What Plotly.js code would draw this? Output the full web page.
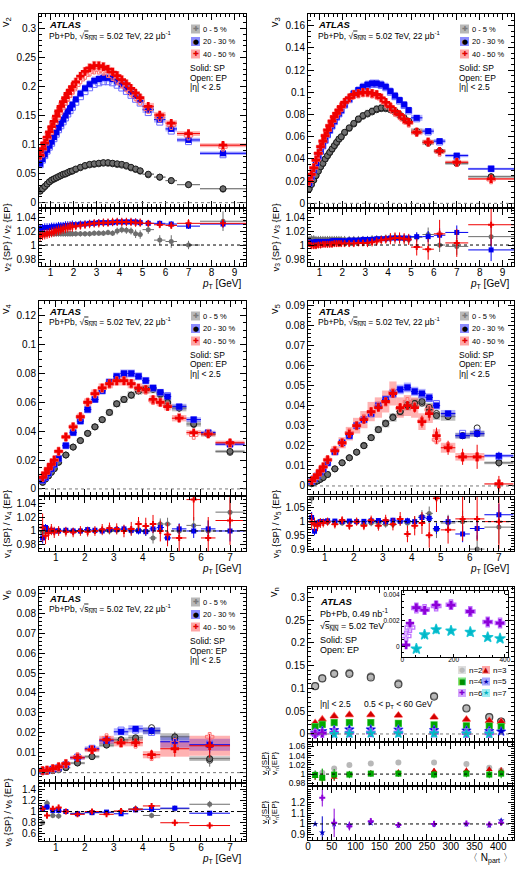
<!DOCTYPE html>
<html><head><meta charset="utf-8">
<script src="https://cdn.plot.ly/plotly-3.0.1.min.js"></script>
<style>html,body{margin:0;padding:0;background:#fff;}#chart{width:519px;height:871px;}</style>
</head><body><div id="chart"></div>
<script>
// ---------------- DATA ----------------
const centLabels = ['0 - 5 %', '20 - 30 %', '40 - 50 %'];
const harmLabels = ['n=2', 'n=3', 'n=4', 'n=5', 'n=6', 'n=7'];

// pT bins for v2, v3
const ptA = [0.55,0.65,0.75,0.85,0.95,1.05,1.15,1.25,1.35,1.45,1.55,1.65,1.75,1.85,1.95,2.1,2.3,2.5,2.7,2.9,3.1,3.3,3.5,3.7,3.9,4.1,4.3,4.5,4.7,4.9,5.25,5.75,6.25,7.0,8.5];
const ptAHalf = [0.05,0.05,0.05,0.05,0.05,0.05,0.05,0.05,0.05,0.05,0.05,0.05,0.05,0.05,0.05,0.1,0.1,0.1,0.1,0.1,0.1,0.1,0.1,0.1,0.1,0.1,0.1,0.1,0.1,0.1,0.25,0.25,0.25,0.5,1.0];

const v2_0005 = [0.020,0.024,0.028,0.032,0.036,0.039,0.041,0.043,0.045,0.047,0.049,0.050,0.052,0.054,0.055,0.058,0.061,0.064,0.066,0.067,0.068,0.069,0.069,0.068,0.067,0.066,0.064,0.061,0.058,0.055,0.049,0.044,0.038,0.031,0.024];
const v2_2030 = [0.067,0.075,0.083,0.091,0.098,0.105,0.113,0.121,0.129,0.136,0.143,0.150,0.157,0.163,0.169,0.178,0.188,0.197,0.204,0.210,0.213,0.215,0.215,0.213,0.209,0.204,0.198,0.191,0.184,0.177,0.160,0.143,0.127,0.108,0.085];
const v2_4050 = [0.082,0.093,0.103,0.113,0.122,0.131,0.140,0.149,0.158,0.166,0.174,0.181,0.188,0.194,0.200,0.208,0.218,0.226,0.232,0.236,0.236,0.234,0.230,0.225,0.219,0.212,0.205,0.197,0.189,0.181,0.166,0.151,0.137,0.119,0.099];
const r2_0005 = [1.015,1.015,1.016,1.016,1.016,1.016,1.016,1.016,1.016,1.016,1.016,1.016,1.016,1.016,1.016,1.016,1.016,1.016,1.016,1.017,1.017,1.017,1.018,1.017,1.020,1.022,1.021,1.020,1.016,1.015,1.022,1.007,1.005,1.000,1.034];
const r2_2030 = [1.024,1.024,1.025,1.025,1.025,1.026,1.026,1.026,1.027,1.027,1.027,1.028,1.028,1.028,1.029,1.029,1.030,1.030,1.031,1.031,1.032,1.032,1.032,1.032,1.033,1.033,1.033,1.033,1.033,1.032,1.031,1.031,1.030,1.027,1.030];
const r2_4050 = [1.013,1.014,1.015,1.016,1.017,1.018,1.019,1.020,1.021,1.022,1.023,1.024,1.025,1.026,1.026,1.027,1.028,1.029,1.030,1.031,1.031,1.032,1.032,1.033,1.033,1.033,1.033,1.033,1.032,1.032,1.031,1.029,1.028,1.031,1.031];
const re2_0005 = [0.004,0.004,0.004,0.004,0.004,0.004,0.004,0.004,0.004,0.004,0.004,0.004,0.004,0.004,0.004,0.004,0.004,0.004,0.004,0.004,0.004,0.004,0.004,0.004,0.005,0.005,0.005,0.005,0.006,0.006,0.006,0.007,0.009,0.006,0.014];
const re2_2030 = [0.006,0.006,0.006,0.006,0.006,0.006,0.006,0.006,0.006,0.006,0.006,0.006,0.006,0.006,0.006,0.005,0.005,0.005,0.005,0.005,0.005,0.005,0.005,0.005,0.005,0.005,0.005,0.005,0.005,0.005,0.004,0.004,0.004,0.004,0.005];
const re2_4050 = [0.007,0.007,0.007,0.007,0.007,0.007,0.007,0.007,0.007,0.007,0.007,0.007,0.007,0.007,0.007,0.006,0.006,0.006,0.006,0.006,0.006,0.006,0.006,0.006,0.006,0.006,0.006,0.006,0.006,0.006,0.005,0.005,0.005,0.006,0.006];

const v3_0005 = [0.013,0.017,0.021,0.025,0.029,0.033,0.036,0.040,0.043,0.046,0.049,0.052,0.055,0.058,0.060,0.064,0.068,0.072,0.076,0.079,0.081,0.083,0.085,0.086,0.086,0.085,0.083,0.080,0.077,0.074,0.065,0.055,0.047,0.036,0.024];
const v3_2030 = [0.018,0.024,0.030,0.036,0.042,0.047,0.052,0.057,0.062,0.066,0.070,0.074,0.078,0.081,0.084,0.089,0.094,0.099,0.102,0.105,0.107,0.108,0.108,0.107,0.105,0.101,0.097,0.093,0.089,0.084,0.077,0.065,0.056,0.043,0.031];
const v3_4050 = [0.020,0.026,0.032,0.039,0.045,0.051,0.056,0.061,0.066,0.070,0.074,0.078,0.081,0.084,0.087,0.091,0.095,0.098,0.099,0.100,0.100,0.099,0.098,0.095,0.091,0.087,0.083,0.080,0.076,0.073,0.064,0.055,0.047,0.037,0.022];
const r3_0005 = [1.008,1.009,1.009,1.008,1.008,1.008,1.008,1.008,1.008,1.008,1.008,1.008,1.008,1.008,1.008,1.008,1.008,1.008,1.008,1.008,1.008,1.009,1.009,1.009,1.010,1.010,1.011,1.010,1.009,1.008,1.011,1.015,1.000,0.998,1.012];
const r3_2030 = [1.004,1.004,1.004,1.005,1.005,1.005,1.005,1.005,1.005,1.005,1.006,1.006,1.006,1.006,1.006,1.006,1.007,1.007,1.007,1.008,1.008,1.008,1.009,1.009,1.009,1.010,1.010,1.010,1.010,1.010,1.012,1.012,1.014,1.018,0.993];
const r3_4050 = [1.002,0.999,0.999,0.999,1.000,1.000,1.001,1.001,1.001,1.001,1.001,1.002,1.002,1.002,1.002,1.002,1.002,1.002,1.003,1.003,1.003,1.004,1.005,1.007,1.008,1.009,1.010,1.010,1.009,1.008,0.997,0.994,1.016,1.003,1.029];
const re3_0005 = [0.005,0.005,0.005,0.005,0.005,0.005,0.005,0.005,0.005,0.005,0.005,0.005,0.005,0.005,0.005,0.005,0.005,0.005,0.005,0.005,0.005,0.005,0.005,0.005,0.005,0.006,0.006,0.006,0.006,0.006,0.007,0.010,0.010,0.012,0.015];
const re3_2030 = [0.004,0.004,0.004,0.004,0.004,0.004,0.004,0.004,0.004,0.004,0.004,0.004,0.004,0.004,0.004,0.004,0.004,0.004,0.004,0.004,0.004,0.004,0.004,0.004,0.004,0.005,0.005,0.005,0.005,0.005,0.006,0.008,0.010,0.010,0.016];
const re3_4050 = [0.005,0.005,0.005,0.005,0.005,0.005,0.005,0.005,0.005,0.005,0.005,0.005,0.005,0.005,0.005,0.005,0.005,0.005,0.005,0.005,0.006,0.006,0.006,0.006,0.006,0.008,0.008,0.008,0.008,0.008,0.012,0.015,0.020,0.020,0.030];

// pT bins for v4, v5
const ptB = [0.55,0.65,0.75,0.85,0.95,1.1,1.35,1.6,1.85,2.1,2.35,2.6,2.85,3.1,3.35,3.6,3.85,4.1,4.35,4.6,4.85,5.25,5.75,6.25,7.0];
const ptBHalf = [0.05,0.05,0.05,0.05,0.05,0.1,0.125,0.125,0.125,0.125,0.125,0.125,0.125,0.125,0.125,0.125,0.125,0.125,0.125,0.125,0.125,0.25,0.25,0.25,0.5];

const v4_0005 = [0.0046,0.0069,0.009,0.0115,0.014,0.0185,0.0235,0.029,0.0335,0.0385,0.043,0.048,0.053,0.059,0.062,0.065,0.068,0.069,0.069,0.066,0.060,0.056,0.045,0.038,0.026];
const v4_2030 = [0.006,0.008,0.011,0.014,0.017,0.021,0.030,0.039,0.047,0.055,0.062,0.068,0.074,0.078,0.080,0.080,0.078,0.075,0.070,0.067,0.064,0.057,0.048,0.039,0.031];
const v4_4050 = [0.008,0.011,0.014,0.017,0.020,0.026,0.036,0.043,0.050,0.060,0.066,0.070,0.073,0.075,0.075,0.073,0.070,0.069,0.062,0.060,0.057,0.049,0.039,0.038,0.032];
const r4_0005 = [0.998,1.000,1.001,1.000,1.000,1.001,1.000,1.000,1.000,1.001,1.000,1.001,1.000,1.001,1.002,1.000,1.002,1.000,0.990,1.010,1.010,1.000,1.008,1.000,1.027];
const r4_2030 = [0.990,1.005,1.000,1.001,1.000,1.000,1.001,1.000,1.000,1.002,1.001,1.000,1.002,1.002,1.003,1.001,1.000,0.999,1.003,1.005,0.990,1.003,1.000,1.003,1.000];
const r4_4050 = [1.005,0.993,0.997,1.002,0.998,1.000,0.999,0.998,1.000,0.999,1.000,1.002,1.004,1.003,1.000,1.003,1.010,1.007,1.010,1.000,0.995,0.990,1.045,0.990,1.015];
const re4_0005 = [0.006,0.004,0.004,0.004,0.004,0.004,0.004,0.004,0.004,0.004,0.004,0.005,0.005,0.005,0.005,0.006,0.006,0.007,0.008,0.008,0.009,0.010,0.012,0.015,0.020];
const re4_2030 = [0.008,0.005,0.004,0.004,0.004,0.004,0.004,0.004,0.004,0.004,0.004,0.004,0.004,0.004,0.005,0.005,0.005,0.006,0.006,0.007,0.008,0.008,0.010,0.012,0.015];
const re4_4050 = [0.020,0.012,0.010,0.008,0.008,0.007,0.007,0.007,0.007,0.007,0.007,0.008,0.008,0.008,0.009,0.010,0.010,0.012,0.013,0.015,0.017,0.020,0.030,0.030,0.035];

const v5_0005 = [0.0012,0.0018,0.0025,0.0033,0.0042,0.0057,0.0085,0.0115,0.014,0.0168,0.020,0.024,0.028,0.031,0.034,0.037,0.040,0.041,0.042,0.039,0.035,0.0345,0.025,0.026,0.0115];
const v5_2030 = [0.0022,0.0035,0.005,0.0068,0.0085,0.0115,0.017,0.0215,0.025,0.030,0.033,0.036,0.040,0.043,0.046,0.048,0.049,0.047,0.046,0.044,0.040,0.036,0.025,0.026,0.015];
const v5_4050 = [0.0025,0.004,0.0055,0.0075,0.0095,0.013,0.0175,0.0215,0.026,0.030,0.033,0.037,0.039,0.042,0.046,0.039,0.040,0.039,0.032,0.036,0.025,0.019,0.0145,0.0145,0.001];
const e5_0005 = [0.0002,0.0002,0.0002,0.0002,0.0002,0.0002,0.0002,0.0003,0.0003,0.0003,0.0003,0.0004,0.0004,0.0005,0.0005,0.0006,0.0007,0.0008,0.0009,0.001,0.0011,0.0012,0.0015,0.0018,0.0022];
const e5_2030 = [0.0002,0.0002,0.0002,0.0002,0.0002,0.0002,0.0002,0.0003,0.0003,0.0003,0.0003,0.0004,0.0004,0.0004,0.0005,0.0005,0.0006,0.0007,0.0008,0.0009,0.001,0.0012,0.0015,0.0018,0.002];
const e5_4050 = [0.0004,0.0004,0.0004,0.0004,0.0005,0.0005,0.0006,0.0007,0.0008,0.0009,0.001,0.0012,0.0013,0.0015,0.0017,0.002,0.0022,0.0025,0.003,0.0035,0.004,0.0035,0.004,0.006,0.004];
const r5_0005 = [1.085,0.990,0.995,1.000,1.000,0.998,1.000,0.995,0.998,1.000,0.990,0.995,0.995,0.990,0.990,1.000,0.995,1.000,1.020,1.030,0.970,0.995,1.000,0.900,0.980];
const r5_2030 = [1.015,0.965,0.995,1.000,1.000,1.003,1.002,1.000,1.002,1.000,1.001,1.003,1.004,1.000,1.005,1.002,1.003,1.000,1.015,1.012,0.975,1.000,0.955,0.975,1.025];
const r5_4050 = [1.000,0.990,0.985,0.995,0.995,1.000,0.990,1.005,0.985,1.000,0.985,1.005,0.985,1.005,0.990,1.010,0.955,0.985,0.995,0.950,1.085,0.970,1.010,1.010,1.000];
const re5_0005 = [0.02,0.015,0.012,0.01,0.01,0.01,0.01,0.01,0.01,0.01,0.01,0.012,0.012,0.012,0.013,0.015,0.017,0.02,0.022,0.025,0.03,0.03,0.04,0.05,0.06];
const re5_2030 = [0.02,0.015,0.01,0.008,0.007,0.007,0.007,0.007,0.007,0.007,0.007,0.008,0.008,0.008,0.009,0.01,0.011,0.012,0.014,0.016,0.02,0.02,0.03,0.04,0.04];
const re5_4050 = [0.03,0.025,0.02,0.018,0.016,0.015,0.015,0.015,0.015,0.015,0.016,0.017,0.018,0.02,0.022,0.025,0.03,0.035,0.04,0.045,0.05,0.05,0.08,0.08,0.1];

// pT bins for v6
const ptC = [0.55,0.7,0.9,1.1,1.35,1.75,2.25,2.75,3.25,3.75,4.3,5.1,6.3];
const ptCHalf = [0.05,0.1,0.1,0.1,0.15,0.25,0.25,0.25,0.25,0.25,0.3,0.5,0.7];
const v6_0005 = [0.0005,0.0007,0.001,0.0015,0.0025,0.0048,0.008,0.0138,0.0165,0.0175,0.021,0.018,0.007];
const v6_2030 = [0.0008,0.001,0.0018,0.0025,0.004,0.0075,0.012,0.016,0.0205,0.022,0.021,0.0155,0.014];
const v6_4050 = [0.001,0.0012,0.002,0.003,0.0045,0.0075,0.0115,0.0165,0.015,0.015,0.009,0.012,0.0135];
const e6_0005 = [0.0002,0.0002,0.0002,0.0003,0.0003,0.0004,0.0005,0.0007,0.001,0.0013,0.0018,0.0025,0.004];
const e6_2030 = [0.0002,0.0002,0.0002,0.0003,0.0003,0.0004,0.0005,0.0007,0.001,0.0012,0.0016,0.0025,0.004];
const e6_4050 = [0.0003,0.0003,0.0004,0.0004,0.0005,0.0007,0.0009,0.0012,0.0015,0.002,0.0025,0.004,0.006];
const s6_0005 = [0.0003,0.0003,0.0003,0.0004,0.0005,0.0006,0.0008,0.001,0.0012,0.0014,0.0015,0.0018,0.0012];
const s6_2030 = [0.0003,0.0003,0.0004,0.0005,0.0006,0.0009,0.0012,0.0015,0.0018,0.0018,0.0018,0.003,0.003];
const s6_4050 = [0.0004,0.0004,0.0005,0.0006,0.0007,0.001,0.0012,0.002,0.0018,0.0018,0.0018,0.004,0.005];
const r6_0005 = [0.80,1.15,0.93,0.92,1.00,0.97,0.98,0.98,1.00,1.05,0.93,1.05,1.13];
const r6_2030 = [1.05,1.08,1.02,1.02,1.00,0.96,0.98,0.99,0.96,1.03,1.04,1.06,0.97];
const r6_4050 = [1.05,0.93,1.05,1.07,1.00,0.95,1.00,0.95,1.01,1.04,1.10,0.80,0.75];
const re6_0005 = [0.05,0.06,0.05,0.05,0.04,0.03,0.03,0.04,0.05,0.06,0.05,0.06,0.06];
const re6_2030 = [0.04,0.05,0.04,0.04,0.03,0.02,0.02,0.02,0.02,0.03,0.03,0.03,0.04];
const re6_4050 = [0.05,0.06,0.05,0.05,0.04,0.03,0.03,0.03,0.04,0.05,0.05,0.06,0.06];

// vn vs Npart
const npart = [15, 30, 55, 87, 132, 190, 265, 333, 381, 406];
const vn2 = [0.105,0.1224,0.1336,0.1346,0.1269,0.1117,0.0841,0.0572,0.0375,0.0272];
const vn3 = [0.024,0.032,0.039,0.042,0.042,0.041,0.037,0.032,0.029,0.027];
const vn4 = [0.016,0.021,0.025,0.025,0.025,0.0235,0.020,0.018,0.0175,0.016];
const vn5 = [0.003,0.006,0.0085,0.0098,0.010,0.0095,0.0085,0.0075,0.0065,0.0055];
const vn6 = [0.0001,0.0018,0.0030,0.0028,0.0032,0.0032,0.0027,0.0019,0.0018,null];
const vn7 = [null,null,-0.0002,0.0009,0.0013,0.0012,0.0011,0.0007,0.0006,null];
const rn2 = [1.000,1.003,1.012,1.020,1.023,1.025,1.025,1.022,1.014,1.008];
const rn3 = [0.995,0.990,0.993,1.000,1.002,1.004,1.007,1.008,1.010,1.007];
const rn4 = [0.998,0.992,0.999,0.999,1.001,1.001,0.999,1.001,0.999,1.001];
const rn5 = [1.00,0.92,1.00,0.99,1.01,0.99,1.00,1.00,0.99,1.03];
const rn6 = [0.125,1.24,1.01,0.98,1.025,0.99,1.00,1.005,0.995,1.01];
const rn7 = [1,1,1,1,1,1,1,1,1,1];
const ren2 = [0.005,0.008,0.005,0.005,0.005,0.005,0.005,0.005,0.005,0.006];
const ren3 = [0.008,0.012,0.008,0.006,0.006,0.006,0.006,0.006,0.006,0.008];
const ren4 = [0.010,0.020,0.012,0.008,0.007,0.007,0.008,0.008,0.008,0.010];
const ren5 = [0,0.15,0.05,0.03,0.02,0.01,0.02,0.02,0.02,0.02];
const ren6 = [0,0.08,0.13,0.04,0.03,0.01,0.03,0.02,0.02,0.02];
const en6 = [0.0003,0.0003,0.0003,0.0003,0.0002,0.0002,0.0002,0.0002,0.0002,0];
const en7 = [0,0,0.0003,0.0003,0.0003,0.0002,0.0002,0.0002,0.0002,0];

// ---------------- DRAWING ----------------
const W = 519, H = 871;
const F = '"Liberation Sans", Arial, Helvetica, sans-serif';
const G = '"DejaVu Sans", sans-serif';
const traces = [], ann = [], shapes = [];
const layout = {width: W, height: H, margin: {l:0, r:0, t:0, b:0}, autosize: false,
  paper_bgcolor: '#fff', plot_bgcolor: 'rgba(0,0,0,0)', showlegend: false, barmode: 'overlay'};

function ids(i){ const s = i === 1 ? '' : String(i); return {xa: 'x'+s, ya: 'y'+s, xk: 'xaxis'+s, yk: 'yaxis'+s}; }
function mn(d, len){ return {ticks:'inside', ticklen: len || 3, tickcolor:'#000', dtick: d, tick0: 0}; }
function mkAxis(o){
  return Object.assign({showline:true, mirror:'allticks', linecolor:'#000', linewidth:1, ticks:'inside',
    ticklen:6, tickwidth:1, tickcolor:'#000', showgrid:false, zeroline:false, fixedrange:true,
    tickfont:{family:F, size:10, color:'#000'}, tick0:0}, o);
}
function axes(i, L, R, T, B, xr, yr, xo, yo){
  const d = ids(i);
  layout[d.xk] = mkAxis(Object.assign({domain:[L/W, R/W], range:xr, anchor:d.ya, ticklabelstandoff:-3}, xo));
  layout[d.yk] = mkAxis(Object.assign({domain:[1-B/H, 1-T/H], range:yr, anchor:d.xa}, yo));
}
function hline(i, y, color){
  const d = ids(i);
  shapes.push({type:'line', xref:d.xa+' domain', yref:d.ya, x0:0, x1:1, y0:y, y1:y, line:{color:color, width:1, dash:'dot'}});
}
function txt(x, y, t, size, o){
  ann.push(Object.assign({xref:'paper', yref:'paper', x:x/W, y:1-y/H, text:t, showarrow:false,
    xanchor:'left', yanchor:'middle', font:{family:F, size:size, color:'#000'}}, o || {}));
}
function rectPx(x0, y0, x1, y1, fill){
  shapes.push({type:'rect', xref:'paper', yref:'paper', x0:x0/W, x1:x1/W, y0:1-y1/H, y1:1-y0/H, fillcolor:fill, line:{width:0}, layer:'above'});
}
function boxTrace(xs, hw, ys, sys, minW, i, color){
  const d = ids(i), base = [], h = [], w = [];
  for (let k = 0; k < xs.length; k++){
    const s = Array.isArray(sys) ? sys[k] : (ys[k] == null ? null : Math.abs(ys[k]) * sys);
    if (ys[k] == null){ base.push(null); h.push(null); w.push(minW); continue; }
    base.push(ys[k] - s); h.push(2*s); w.push(Math.max(2*hw[k], minW));
  }
  return {type:'bar', x:xs, y:h, base:base, width:w, xaxis:d.xa, yaxis:d.ya,
    marker:{color:color, line:{width:0}}, hoverinfo:'skip', showlegend:false};
}
function divide(a, b){ return a.map((v, k) => v == null ? null : v / b[k]); }

const ST = [
  {sym:'circle', ep:'circle-open', fill:'#6e6e6e', line:'#1a1a1a', epc:'#2a2a2a', box:'rgba(40,40,40,0.30)', size:6,
   lglyph:'✚', lcol:'#7a7a7a', lbox:'rgba(0,0,0,0.28)'},
  {sym:'square', ep:'square-open', fill:'#0000f0', line:'#0000f0', epc:'#6a6aff', box:'rgba(0,0,255,0.30)', size:6,
   lglyph:'●', lcol:'#000', lbox:'rgba(0,0,255,0.45)'},
  {sym:'cross', ep:'cross-open', fill:'#f00000', line:'#f00000', epc:'#ff7070', box:'rgba(255,0,0,0.30)', size:7,
   lglyph:'✚', lcol:'#e00000', lbox:'rgba(255,0,0,0.35)'}
];

function ptPanel(P){
  const dm = ids(P.im), dr = ids(P.ir);
  axes(P.im, P.L, P.R, P.T, P.Bm, P.xrange, P.yrange,
    {showticklabels:false, dtick:1, minor:mn(0.2)}, {dtick:P.ydt, minor:mn(P.ymn)});
  axes(P.ir, P.L, P.R, P.Tr, P.Br, P.xrange, P.rrange,
    {dtick:1, minor:mn(0.2)}, {dtick:P.rdt, minor:mn(P.rmn)});
  hline(P.im, 0, '#777');
  hline(P.ir, 1, '#000');
  P.series.forEach((s, k) => traces.push(boxTrace(P.x, P.hw, s.v, s.sys, P.boxMin, P.im, ST[k].box)));
  P.series.forEach((s, k) => {
    const st = ST[k];
    traces.push({type:'scatter', mode:'markers', x:P.x, y:divide(s.v, s.r), xaxis:dm.xa, yaxis:dm.ya,
      marker:{symbol:st.ep, size:st.size, color:st.epc, line:{width:1, color:st.epc}}, hoverinfo:'skip'});
    const t = {type:'scatter', mode:'markers', x:P.x, y:s.v, xaxis:dm.xa, yaxis:dm.ya,
      marker:{symbol:st.sym, size:st.size, color:st.fill, line:{width:k===0?1:0, color:st.line}},
      error_x:{type:'data', array:P.hw, width:0, thickness:1, color:st.fill}, hoverinfo:'skip'};
    if (s.e) t.error_y = {type:'data', array:s.e, width:0, thickness:1, color:st.fill};
    traces.push(t);
  });
  P.series.forEach((s, k) => {
    const st = ST[k];
    traces.push({type:'scatter', mode:'markers', x:P.x, y:s.r, xaxis:dr.xa, yaxis:dr.ya,
      marker:{symbol:st.sym, size:5, color:st.fill, line:{width:0}},
      error_x:{type:'data', array:P.hw, width:0, thickness:1, color:st.fill},
      error_y:{type:'data', array:s.re, width:0, thickness:1, color:st.fill}, hoverinfo:'skip'});
  });
  // texts
  const L = P.L, T = P.T;
  txt(L+8, T+11, '<b><i>ATLAS</i></b>', 9.5);
  txt(L+8, T+21, 'Pb+Pb, √<span style="text-decoration:overline">s<sub>NN</sub></span> = 5.02 TeV, 22 μb<sup>-1</sup>', 8.5);
  centLabels.forEach((lab, k) => {
    const y = T + 15 + 12.5*k;
    rectPx(L+152, y-4.5, L+161, y+4.5, ST[k].lbox);
    ann.push({xref:'paper', yref:'paper', x:(L+156.5)/W, y:1-y/H, text:ST[k].lglyph, showarrow:false,
      xanchor:'center', yanchor:'middle', font:{family:G, size:7, color:ST[k].lcol}});
    txt(L+162, y, lab, 7.5);
  });
  txt(L+149, T+54, 'Solid: SP', 8.5);
  txt(L+149, T+63.5, 'Open: EP', 8.5);
  txt(L+149, T+73, '|η| &lt; 2.5', 8.5);
  txt(P.L-33, T+8, 'v<sub>' + P.n + '</sub>', 11, {xanchor:'center', textangle:-90});
  txt(P.L-32, (P.Tr+P.Br)/2, 'v<sub>' + P.n + '</sub> {SP} / v<sub>' + P.n + '</sub> {EP}', 9.5, {xanchor:'center', textangle:-90});
  txt(P.R-3, P.Br+18, '<i>p</i><sub>T</sub> [GeV]', 10, {xanchor:'right'});
}

ptPanel({im:1, ir:2, L:39, R:246, T:14, Bm:207, Tr:209, Br:266, xrange:[0.5, 9.5], yrange:[-0.0075, 0.325],
  ydt:0.05, ymn:0.01, rrange:[0.970, 1.0515], rdt:0.02, rmn:0.005, x:ptA, hw:ptAHalf, boxMin:0.2, n:2,
  series:[{v:v2_0005, r:r2_0005, re:re2_0005, sys:0.03}, {v:v2_2030, r:r2_2030, re:re2_2030, sys:0.035}, {v:v2_4050, r:r2_4050, re:re2_4050, sys:0.035}]});
ptPanel({im:3, ir:4, L:308, R:514, T:14, Bm:207, Tr:209, Br:266, xrange:[0.5, 9.5], yrange:[-0.0033, 0.1705],
  ydt:0.02, ymn:0.005, rrange:[0.970, 1.0515], rdt:0.02, rmn:0.005, x:ptA, hw:ptAHalf, boxMin:0.2, n:3,
  series:[{v:v3_0005, r:r3_0005, re:re3_0005, sys:0.04}, {v:v3_2030, r:r3_2030, re:re3_2030, sys:0.035}, {v:v3_4050, r:r3_4050, re:re3_4050, sys:0.04}]});
ptPanel({im:5, ir:6, L:39, R:246, T:301, Bm:495, Tr:497, Br:551, xrange:[0.425, 7.55], yrange:[-0.0042, 0.1302],
  ydt:0.02, ymn:0.005, rrange:[0.9713, 1.0487], rdt:0.02, rmn:0.005, x:ptB, hw:ptBHalf, boxMin:0.2, n:4,
  series:[{v:v4_0005, r:r4_0005, re:re4_0005, sys:0.04}, {v:v4_2030, r:r4_2030, re:re4_2030, sys:0.035}, {v:v4_4050, r:r4_4050, re:re4_4050, sys:0.045}]});
ptPanel({im:7, ir:8, L:308, R:514, T:301, Bm:494, Tr:497, Br:551, xrange:[0.425, 7.52], yrange:[-0.004, 0.092],
  ydt:0.01, ymn:0.002, rrange:[0.893, 1.0897], rdt:0.05, rmn:0.01, x:ptB, hw:ptBHalf, boxMin:0.2, n:5,
  series:[{v:v5_0005, r:r5_0005, re:re5_0005, e:e5_0005, sys:0.06}, {v:v5_2030, r:r5_2030, re:re5_2030, e:e5_2030, sys:0.05}, {v:v5_4050, r:r5_4050, re:re5_4050, e:e5_4050, sys:0.13}]});
ptPanel({im:9, ir:10, L:39, R:246, T:587, Bm:782, Tr:784, Br:841, xrange:[0.425, 7.55], yrange:[-0.0047, 0.0932],
  ydt:0.01, ymn:0.002, rrange:[0.474, 1.4914], rdt:0.2, rmn:0.05, x:ptC, hw:ptCHalf, boxMin:0.2, n:6,
  series:[{v:v6_0005, r:r6_0005, re:re6_0005, e:e6_0005, sys:s6_0005}, {v:v6_2030, r:r6_2030, re:re6_2030, e:e6_2030, sys:s6_2030}, {v:v6_4050, r:r6_4050, re:re6_4050, e:e6_4050, sys:s6_4050}]});

// ---------- vn vs Npart panel ----------
const HS = [
  {v:vn2, r:rn2, re:ren2, sym:'circle', ep:'circle-open', fill:'#b8b8b8', epc:'#444', box:'rgba(150,150,150,0.30)', sys:0.02, size:7, glyph:'●', gcol:'#bbb', lbox:'rgba(160,160,160,0.35)'},
  {v:vn3, r:rn3, re:ren3, sym:'triangle-up', ep:'triangle-up-open', fill:'#d40000', epc:'#ff6060', box:'rgba(255,0,0,0.30)', sys:0.05, size:7, glyph:'▲', gcol:'#c00000', lbox:'rgba(255,60,60,0.45)'},
  {v:vn4, r:rn4, re:ren4, sym:'square', ep:'square-open', fill:'#00a800', epc:'#50d050', box:'rgba(0,200,0,0.35)', sys:0.06, size:6, glyph:'■', gcol:'#009000', lbox:'rgba(0,200,0,0.5)'},
  {v:vn5, r:rn5, re:ren5, sym:'star', ep:'star-open', fill:'#0000c8', epc:'#5a5aff', box:'rgba(0,0,255,0.30)', sys:0.12, size:7, glyph:'★', gcol:'#0000b0', lbox:'rgba(60,60,255,0.45)'},
  {v:vn6, r:rn6, re:ren6, sym:'cross', ep:'cross-open', fill:'#8c00d8', epc:'#c070ff', box:'rgba(150,0,255,0.30)', sys:0.12, size:7, glyph:'✚', gcol:'#8000d0', lbox:'rgba(170,80,255,0.5)'},
  {v:vn7, r:rn7, re:null, sym:'star', ep:'star-open', fill:'#00b8c8', epc:'#20c8d8', box:'rgba(0,220,230,0.35)', sys:0.2, size:7, glyph:'★', gcol:'#00b0c0', lbox:'rgba(60,220,230,0.5)'}
];
axes(11, 308, 514, 587, 741, [0, 433], [-0.0154, 0.3226], {showticklabels:false, dtick:50, minor:mn(10)}, {dtick:0.05, minor:mn(0.01)});
axes(12, 308, 514, 743, 785, [0, 433], [0.9763, 1.0675], {showticklabels:false, dtick:50, minor:mn(10)},
  {dtick:0.02, minor:mn(0.005), tickfont:{family:F, size:8.5, color:'#000'}});
axes(13, 308, 514, 787, 840, [0, 433], [0.853, 1.3386], {dtick:50, minor:mn(10)},
  {tickmode:'array', tickvals:[0.9, 1.0, 1.1, 1.2], ticktext:['0.9', '1', '1.1', '1.2'], minor:mn(0.02)});
axes(14, 402, 508, 591, 657, [-1, 412], [-0.00083, 0.00429],
  {dtick:200, minor:mn(50, 2), ticklen:3, ticklabelstandoff:-4, tickfont:{family:F, size:6.5, color:'#000'}},
  {dtick:0.002, minor:mn(0.0005, 2), ticklen:3, tickfont:{family:F, size:6.5, color:'#000'}});
hline(11, 0, '#777'); hline(12, 1, '#000'); hline(13, 1, '#000');

HS.forEach(h => traces.push(boxTrace(npart, npart.map(() => 0), h.v, h.sys, 13, 11, h.box)));
HS.forEach((h, k) => {
  const ep = {type:'scatter', mode:'markers', x:npart, y:divide(h.v, h.r), xaxis:'x11', yaxis:'y11',
    marker:{symbol:h.ep, size:h.size, color:h.epc, line:{width:1.2, color:h.epc}}, hoverinfo:'skip'};
  const sp = {type:'scatter', mode:'markers', x:npart, y:h.v, xaxis:'x11', yaxis:'y11',
    marker:{symbol:h.sym, size:h.size, color:h.fill, line:{width:k===0?0.8:0, color:'#888'}}, hoverinfo:'skip'};
  if (k === 0){ traces.push(sp); traces.push(ep); } else { traces.push(ep); traces.push(sp); }
});
[0, 1, 2].forEach(k => {
  const h = HS[k];
  traces.push({type:'scatter', mode:'markers', x:npart, y:h.r, xaxis:'x12', yaxis:'y12',
    marker:{symbol:h.sym, size:6, color:h.fill, line:{width:0}},
    error_y:{type:'data', array:h.re, width:0, thickness:1, color:h.fill}, hoverinfo:'skip'});
});
[3, 4].forEach(k => {
  const h = HS[k];
  traces.push({type:'scatter', mode:'markers', x:npart, y:h.r, xaxis:'x13', yaxis:'y13',
    marker:{symbol:h.sym, size:5, color:h.fill, line:{width:0}},
    error_y:{type:'data', array:h.re, width:0, thickness:1, color:h.fill}, hoverinfo:'skip'});
});
// inset: n=6, n=7
[[HS[4], en6, 0.08], [HS[5], en7, 0.15]].forEach(([h, e, sy]) => {
  traces.push(boxTrace(npart, npart.map(() => 0), divide(h.v, h.r), sy, 22, 14, h.box));
  traces.push({type:'scatter', mode:'markers', x:npart, y:divide(h.v, h.r), xaxis:'x14', yaxis:'y14',
    marker:{symbol:h.ep, size:8, color:h.epc, line:{width:1.3, color:h.epc}},
    error_y:{type:'data', array:e, width:0, thickness:1, color:h.epc}, hoverinfo:'skip'});
  traces.push({type:'scatter', mode:'markers', x:npart, y:h.v, xaxis:'x14', yaxis:'y14',
    marker:{symbol:h.sym, size:7, color:h.fill, line:{width:0}},
    error_y:{type:'data', array:e, width:0, thickness:1, color:h.fill}, hoverinfo:'skip'});
});
// texts for Npart panel
txt(318, 601, '<b><i>ATLAS</i></b>', 9.5);
txt(318, 613, 'Pb+Pb, 0.49 nb<sup>-1</sup>', 9);
txt(318, 626, '√<span style="text-decoration:overline">s<sub>NN</sub></span> = 5.02 TeV', 9);
txt(318, 640, 'Solid: SP', 9);
txt(318, 650, 'Open: EP', 9);
txt(318, 704, '|η| &lt; 2.5', 8.5);
txt(362, 704, '0.5 &lt; p<sub>T</sub> &lt; 60 GeV', 8.5);
harmLabels.forEach((lab, k) => {
  const col = k % 2, row = Math.floor(k / 2);
  const mx = col === 0 ? 462 : 486, y = 670 + 11.5*row;
  rectPx(mx-4, y-4, mx+4, y+4, HS[k].lbox);
  ann.push({xref:'paper', yref:'paper', x:mx/W, y:1-y/H, text:HS[k].glyph, showarrow:false,
    xanchor:'center', yanchor:'middle', font:{family:G, size:7, color:HS[k].gcol}});
  txt(mx+4.5, y, lab, 8);
});
txt(274, 592, 'v<sub>n</sub>', 11, {xanchor:'center', textangle:-90});
txt(270, 764, '<span style="text-decoration:underline">v<sub>n</sub>{SP}</span><br>v<sub>n</sub>{EP}', 8, {xanchor:'center', textangle:-90});
txt(270, 813, '<span style="text-decoration:underline">v<sub>n</sub>{SP}</span><br>v<sub>n</sub>{EP}', 8, {xanchor:'center', textangle:-90});
txt(515, 858, '〈 N<sub>part</sub> 〉', 10, {xanchor:'right'});

layout.annotations = ann;
layout.shapes = shapes;
Plotly.newPlot('chart', traces, layout, {staticPlot:true, displayModeBar:false});
</script></body></html>
